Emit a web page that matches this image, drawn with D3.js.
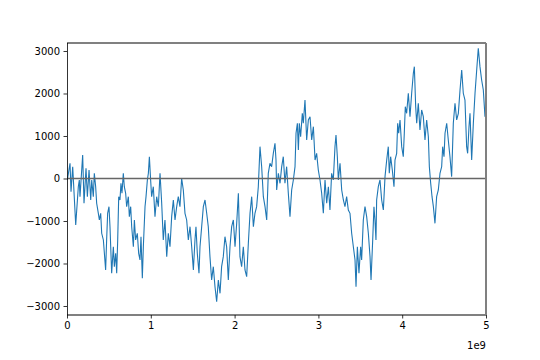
<!DOCTYPE html>
<html><head><meta charset="utf-8">
<script src="https://cdn.jsdelivr.net/npm/d3@7"></script>
<style>html,body{margin:0;padding:0;background:#fff;}svg{display:block;}</style>
</head><body>
<svg id="chart" width="540" height="360"></svg>
<script>
// time values in units of 1e9 (axis offset label "1e9")
const timeE9 = [0,0.004,0.036,0.048,0.068,0.104,0.135,0.147,0.155,0.187,0.203,0.227,0.243,0.263,0.283,0.295,0.314,0.326,0.342,0.354,0.374,0.386,0.402,0.414,0.434,0.446,0.461,0.473,0.485,0.501,0.513,0.533,0.553,0.565,0.581,0.593,0.605,0.617,0.632,0.644,0.656,0.672,0.684,0.700,0.712,0.732,0.744,0.760,0.772,0.792,0.804,0.819,0.839,0.855,0.871,0.883,0.899,0.911,0.931,0.943,0.959,0.971,0.983,0.998,1.010,1.030,1.050,1.070,1.090,1.110,
1.130,1.149,1.169,1.190,1.209,1.229,1.249,1.269,1.289,1.309,1.328,1.348,1.368,1.388,1.408,1.428,1.448,1.468,1.488,1.508,1.527,1.539,1.555,1.575,1.587,1.607,1.627,1.647,1.667,1.686,1.706,1.726,1.746,1.766,1.786,1.806,1.826,1.845,1.865,1.885,1.905,1.925,1.945,1.965,1.985,2.005,2.025,2.045,2.064,2.084,2.104,2.124,2.144,2.164,2.184,2.204,2.224,2.243,2.263,2.283,2.303,
2.323,2.343,2.363,2.383,2.402,2.422,2.442,2.462,2.482,2.494,2.502,2.522,2.542,2.562,2.581,2.601,2.621,2.641,2.661,2.681,2.701,2.721,2.733,2.749,2.761,2.772,2.788,2.808,2.820,2.840,2.860,2.880,2.900,2.920,2.940,2.960,2.979,2.999,3.019,3.039,3.059,3.079,3.099,3.119,3.138,3.158,3.178,3.198,3.210,3.226,3.238,3.258,3.278,3.298,3.317,3.337,3.357,3.377,3.397,3.417,3.437,3.449,3.465,3.484,3.504,3.516,3.536,3.556,3.576,3.596,
3.616,3.628,3.648,3.663,3.675,3.687,3.695,3.715,3.735,3.755,3.775,3.795,3.815,3.834,3.846,3.862,3.882,3.902,3.914,3.934,3.946,3.958,3.974,3.994,4.013,4.025,4.037,4.053,4.073,4.093,4.113,4.133,4.145,4.161,4.173,4.192,4.212,4.232,4.252,4.272,4.292,4.312,4.324,4.340,4.356,4.372,4.391,4.411,4.431,4.451,4.471,4.483,4.499,4.511,4.531,4.550,4.570,4.590,4.610,4.630,4.650,4.670,4.690,4.710,4.729,4.749,4.769,4.781,4.797,4.809,4.829,4.849,4.869,4.889,4.908,4.928,4.948,4.968,4.988,5.000];

const walkValues = [0,-35,357,-310,278,-1094,-193,-35,-428,553,-584,240,-428,200,-506,-35,-428,122,-193,-584,-819,-976,-819,-1289,-1447,-1760,-2153,-1447,-819,-663,-1134,-2231,-1605,-2075,-1760,-2231,-1447,-428,-506,-113,-348,122,-193,-348,-663,-428,-898,-663,-1134,-1605,-976,-1447,-1289,-1760,-1918,-1369,-2349,-1605,-663,-428,-35,122,513,-35,-428,-193,-898,-428,-663,122,
-584,-1447,-976,-1839,-1289,-1605,-898,-506,-976,-663,-428,-663,4,-271,-819,-976,-1447,-1134,-1605,-2153,-1447,-1134,-1760,-2231,-1605,-1134,-663,-506,-819,-1134,-1839,-2388,-2075,-2546,-2899,-2388,-2702,-2075,-1839,-1369,-1605,-2388,-1605,-1134,-976,-1605,-1055,-348,-1839,-2075,-1605,-2153,-2310,-1526,-819,-428,-1134,-819,-663,-193,749,
278,-428,-663,-976,122,357,278,592,828,435,-271,122,-113,278,513,-113,278,-348,-898,-271,-35,278,1064,1299,671,1299,984,1534,1299,1847,906,1377,1454,906,1219,435,592,200,-35,-348,-819,-35,-584,-193,-741,122,-35,749,1024,513,-35,357,-271,-506,-663,-428,-741,-819,-1289,-1605,-1918,-2546,-1605,-2231,-1605,-1918,-976,-663,-898,-1289,
-1839,-2388,-1447,-663,-976,-1447,-506,-193,-35,-506,-741,43,435,749,122,513,200,-193,435,592,1299,1064,1377,749,513,1064,1690,1534,2005,1454,2005,2475,2631,1690,1299,1769,1141,1612,1454,906,1377,984,278,-113,-428,-663,-1055,-428,-271,122,278,749,513,1064,1299,906,513,43,1299,1769,1377,1534,2082,2553,2005,1847,749,592,1219,1534,435,1299,2005,2553,3064,2631,2318,2082,1454,1500];

const xTicks = [0,1,2,3,4,5];
const yTicks = [-3000,-2000,-1000,0,1000,2000,3000];
const xOffsetLabel = "1e9";

const svg = d3.select("#chart");
const L = 67, R = 486, T = 43, B = 315;
const x = d3.scaleLinear().domain([0,5]).range([L,R]);
const y = d3.scaleLinear().domain([-3212,3188]).range([B,T]);
const font = "'DejaVu Sans', sans-serif";

const n = Math.min(timeE9.length, walkValues.length);
const pts = d3.range(n).map(i => [timeE9[i], walkValues[i]]);

svg.append("defs").append("clipPath").attr("id","clip")
  .append("rect").attr("x",L).attr("y",T).attr("width",R-L).attr("height",B-T);

const line = d3.line().x(d=>x(d[0])).y(d=>y(d[1]));
svg.append("path").datum(pts).attr("d",line).attr("clip-path","url(#clip)")
  .attr("fill","none").attr("stroke","#1f77b4").attr("stroke-width",1.1)
  .attr("stroke-linejoin","miter").attr("stroke-miterlimit",3);

// zero line
svg.append("line").attr("x1",L).attr("x2",R).attr("y1",y(0)).attr("y2",y(0))
  .attr("stroke","#666").attr("stroke-width",1.3);

// spines
svg.append("line").attr("x1",L).attr("x2",R).attr("y1",T).attr("y2",T).attr("stroke","#808080").attr("stroke-width",2);
svg.append("line").attr("x1",L).attr("x2",R).attr("y1",B).attr("y2",B).attr("stroke","#808080").attr("stroke-width",2);
svg.append("line").attr("x1",R).attr("x2",R).attr("y1",T).attr("y2",B).attr("stroke","#808080").attr("stroke-width",2);

// axes
const xAxis = d3.axisBottom(x).tickValues(xTicks).tickFormat(d3.format("d")).tickSize(3.5).tickPadding(3.5);
const gx = svg.append("g").attr("transform",`translate(0,${B})`).call(xAxis);
gx.select(".domain").remove();
gx.selectAll("line").attr("stroke","#000").attr("stroke-width",0.8);
gx.selectAll("text").attr("font-family",font).attr("font-size",10).attr("fill","#000");

const yAxis = d3.axisLeft(y).tickValues(yTicks).tickFormat(d => d<0 ? "\u2212"+Math.abs(d) : String(d)).tickSize(3.5).tickPadding(3.5);
const gy = svg.append("g").attr("transform",`translate(${L},0)`).call(yAxis);
gy.select(".domain").attr("stroke","#000").attr("stroke-width",0.8).attr("d",`M0.5,${T}V${B}`);
gy.selectAll("line").attr("stroke","#000").attr("stroke-width",0.8);
gy.selectAll("text").attr("font-family",font).attr("font-size",10).attr("fill","#000");

svg.append("text").attr("x",R).attr("y",349).attr("text-anchor","end")
  .attr("font-family",font).attr("font-size",10).attr("fill","#000").text(xOffsetLabel);
</script>
</body></html>
